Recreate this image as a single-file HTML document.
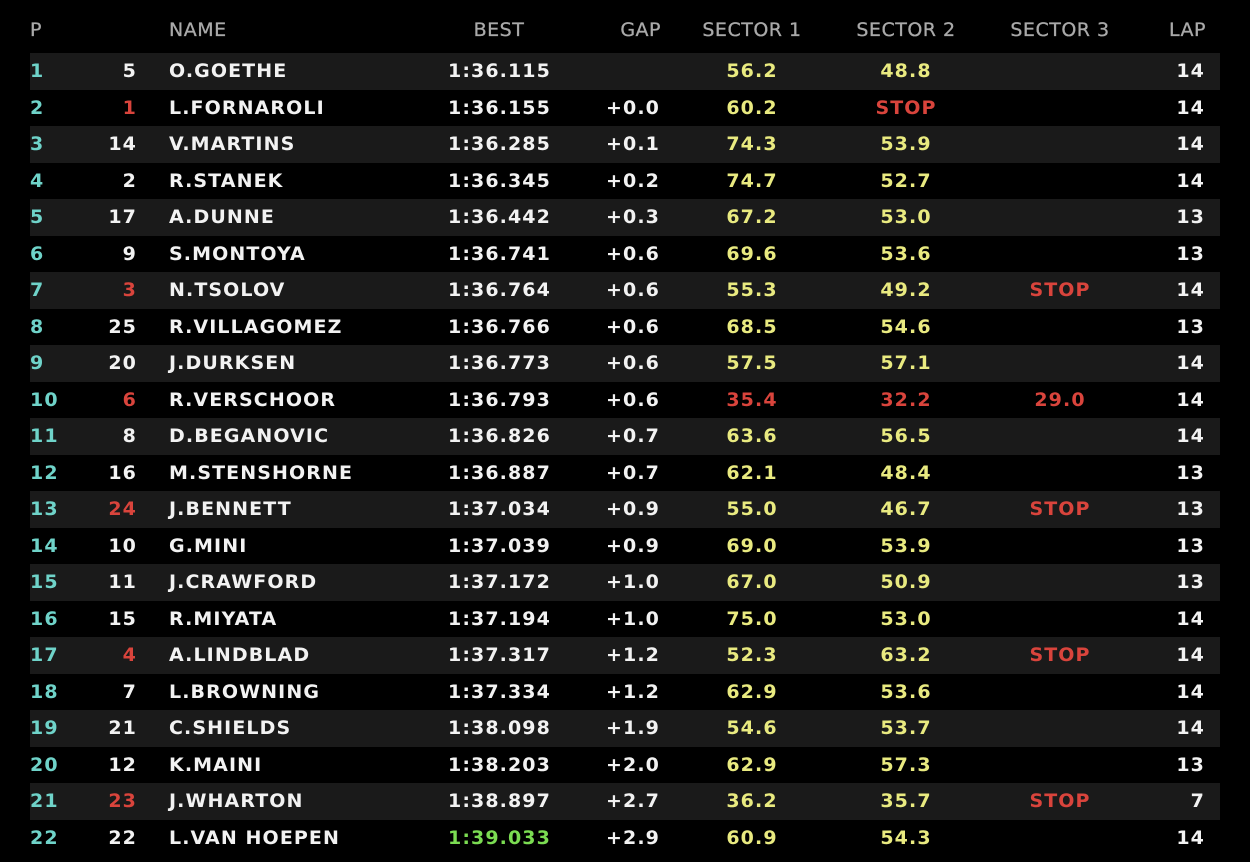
<!DOCTYPE html>
<html><head><meta charset="utf-8"><style>
html,body{margin:0;padding:0;background:#000;width:1250px;height:862px;overflow:hidden}
body{font-family:"DejaVu Sans","Liberation Sans",sans-serif;font-weight:bold;color:#f2f2f2}
.r{position:absolute;left:30px;width:1190px;height:36.5px;line-height:36.5px;font-size:19px;letter-spacing:1.1px}
.r.a{background:#1a1a1a}
.r span{position:absolute;top:0;white-space:nowrap}
.p{left:0;color:#6fd3c9}
.n{right:1083px;text-align:right}
.nm{left:139px}
.b{left:418px;width:100px;text-align:center}
.g{right:560px;text-align:right}
.s1{left:672px;width:100px;text-align:center;color:#e9ea80}
.s2{left:826px;width:100px;text-align:center;color:#e9ea80}
.s3{left:980px;width:100px;text-align:center}
.l{right:15px;text-align:right}
.red{color:#d9443c!important}
.grn{color:#7bdc52}
.h{position:absolute;top:12px;height:36px;line-height:36px;font-size:19px;color:#a9a9a9;font-weight:normal;letter-spacing:0.5px;white-space:nowrap;-webkit-text-stroke:0.3px #a9a9a9}
</style></head><body>
<div class="h" style="left:30px">P</div>
<div class="h" style="left:169px">NAME</div>
<div class="h" style="left:449px;width:100px;text-align:center">BEST</div>
<div class="h" style="right:589px">GAP</div>
<div class="h" style="left:702px;width:100px;text-align:center">SECTOR 1</div>
<div class="h" style="left:856px;width:100px;text-align:center">SECTOR 2</div>
<div class="h" style="left:1010px;width:100px;text-align:center">SECTOR 3</div>
<div class="h" style="right:44px">LAP</div>
<div id="t"></div>
<script>
var d=[
[1,"5",0,"O.GOETHE","1:36.115","","56.2","48.8","",14],
[2,"1",1,"L.FORNAROLI","1:36.155","+0.0","60.2","STOP","",14],
[3,"14",0,"V.MARTINS","1:36.285","+0.1","74.3","53.9","",14],
[4,"2",0,"R.STANEK","1:36.345","+0.2","74.7","52.7","",14],
[5,"17",0,"A.DUNNE","1:36.442","+0.3","67.2","53.0","",13],
[6,"9",0,"S.MONTOYA","1:36.741","+0.6","69.6","53.6","",13],
[7,"3",1,"N.TSOLOV","1:36.764","+0.6","55.3","49.2","STOP",14],
[8,"25",0,"R.VILLAGOMEZ","1:36.766","+0.6","68.5","54.6","",13],
[9,"20",0,"J.DURKSEN","1:36.773","+0.6","57.5","57.1","",14],
[10,"6",1,"R.VERSCHOOR","1:36.793","+0.6","35.4r","32.2r","29.0",14],
[11,"8",0,"D.BEGANOVIC","1:36.826","+0.7","63.6","56.5","",14],
[12,"16",0,"M.STENSHORNE","1:36.887","+0.7","62.1","48.4","",13],
[13,"24",1,"J.BENNETT","1:37.034","+0.9","55.0","46.7","STOP",13],
[14,"10",0,"G.MINI","1:37.039","+0.9","69.0","53.9","",13],
[15,"11",0,"J.CRAWFORD","1:37.172","+1.0","67.0","50.9","",13],
[16,"15",0,"R.MIYATA","1:37.194","+1.0","75.0","53.0","",14],
[17,"4",1,"A.LINDBLAD","1:37.317","+1.2","52.3","63.2","STOP",14],
[18,"7",0,"L.BROWNING","1:37.334","+1.2","62.9","53.6","",14],
[19,"21",0,"C.SHIELDS","1:38.098","+1.9","54.6","53.7","",14],
[20,"12",0,"K.MAINI","1:38.203","+2.0","62.9","57.3","",13],
[21,"23",1,"J.WHARTON","1:38.897","+2.7","36.2","35.7","STOP",7],
[22,"22",0,"L.VAN HOEPEN","1:39.033g","+2.9","60.9","54.3","",14]];
var h="";
d.forEach(function(r,i){
 function v(s){var c="";if(/r$/.test(s)){s=s.slice(0,-1);c=" red";}else if(/g$/.test(s)){s=s.slice(0,-1);c=" grn";}return [s,c];}
 var s1=v(r[6]),s2=v(r[7]),b=v(r[4]);
 if(r[7]=="STOP")s2[1]=" red";
 h+='<div class="r'+(i%2==0?' a':'')+'" style="top:'+(53+i*36.5)+'px">'+
 '<span class="p">'+r[0]+'</span><span class="n'+(r[2]?' red':'')+'">'+r[1]+'</span>'+
 '<span class="nm">'+r[3]+'</span><span class="b'+b[1]+'">'+b[0]+'</span>'+
 '<span class="g">'+r[5]+'</span><span class="s1'+s1[1]+'">'+s1[0]+'</span>'+
 '<span class="s2'+s2[1]+'">'+s2[0]+'</span><span class="s3 red">'+r[8]+'</span>'+
 '<span class="l">'+r[9]+'</span></div>';
});
document.getElementById("t").innerHTML=h;
</script>
</body></html>
